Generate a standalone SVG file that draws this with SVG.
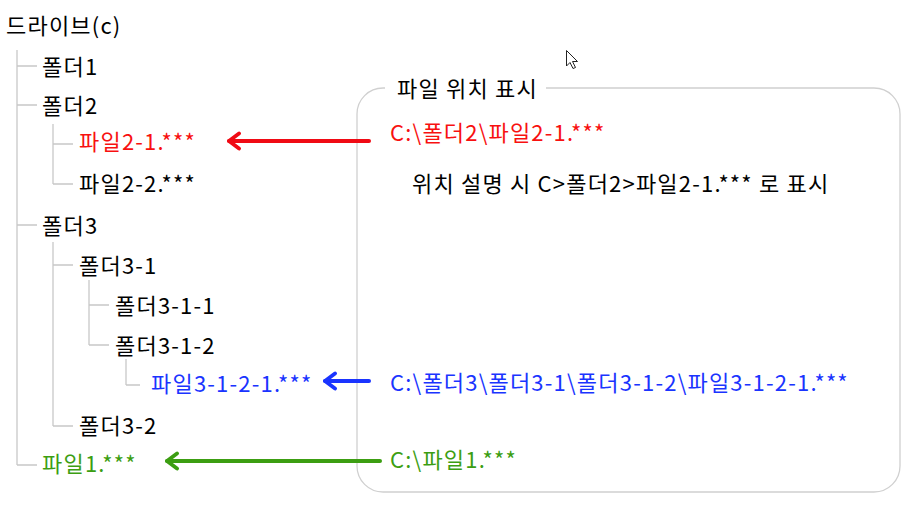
<svg xmlns="http://www.w3.org/2000/svg" width="907" height="512" viewBox="0 0 907 512">
<style>
text{font-family:"Noto Sans CJK KR","Noto Sans",sans-serif;font-size:22px;letter-spacing:1.2px;fill:#000}
.tree{stroke:#c8c8c8;stroke-width:1.3;fill:none}
.red{fill:#f81010}.blue{fill:#1a34ff}.green{fill:#3c9e12}
</style>
<defs>
<marker id="ar" viewBox="0 0 12 12" refX="10" refY="6" markerWidth="20" markerHeight="20" orient="auto" markerUnits="userSpaceOnUse"><path d="M4,1.5 L10,6 L4,10.5" fill="none" stroke="context-stroke" stroke-width="2.3" stroke-linecap="round" stroke-linejoin="round"/></marker>
</defs>
<rect width="907" height="512" fill="#fff"/>
<g id="panel">
<rect x="357" y="88" width="543" height="404" rx="26" fill="none" stroke="#d0d0d0" stroke-width="1.3"/>
<rect x="385" y="80" width="161" height="18" fill="#fff"/>
<text x="397" y="97">파일 위치 표시</text>
</g>
<g id="tree-lines" class="tree">
<path d="M17,50 V465 M17,66 H37 M17,105 H37 M17,225 H37 M17,465 H37"/>
<path d="M53,124 V184 M53,144 H73 M53,184 H73"/>
<path d="M53,242 V426 M53,265 H73 M53,426 H73"/>
<path d="M89,280 V345 M89,305 H109 M89,345 H109"/>
<path d="M126,359 V385 M126,385 H140"/>
</g>
<g id="root"><text x="6" y="34">드라이브(c)</text></g>
<g id="n-folder1"><text x="42" y="75">폴더1</text></g>
<g id="n-folder2"><text x="42" y="114">폴더2</text></g>
<g id="n-file2-1"><text class="red" x="79" y="150">파일2-1.***</text></g>
<g id="n-file2-2"><text x="79" y="192">파일2-2.***</text></g>
<g id="n-folder3"><text x="42" y="234">폴더3</text></g>
<g id="n-folder3-1"><text x="79" y="274">폴더3-1</text></g>
<g id="n-folder3-1-1"><text x="115" y="314">폴더3-1-1</text></g>
<g id="n-folder3-1-2"><text x="115" y="354">폴더3-1-2</text></g>
<g id="n-file3-1-2-1"><text class="blue" x="151" y="392">파일3-1-2-1.***</text></g>
<g id="n-folder3-2"><text x="79" y="434">폴더3-2</text></g>
<g id="n-file1"><text class="green" x="42" y="472">파일1.***</text></g>
<g id="path-red"><text class="red" x="390" y="141">C:\폴더2\파일2-1.***</text></g>
<g id="note"><text x="412" y="192">위치 설명 시 C&gt;폴더2&gt;파일2-1.*** 로 표시</text></g>
<g id="path-blue"><text class="blue" x="390" y="391">C:\폴더3\폴더3-1\폴더3-1-2\파일3-1-2-1.***</text></g>
<g id="path-green"><text class="green" x="390" y="468">C:\파일1.***</text></g>
<g id="connectors" fill="none" stroke-width="4" stroke-linecap="round">
<path d="M369,141 H229" stroke="#f00a14" marker-end="url(#ar)"/>
<path d="M369,381 H325" stroke="#1a34ff" marker-end="url(#ar)"/>
<path d="M380,461 H167" stroke="#3c9e12" marker-end="url(#ar)"/>
</g>
<g id="cursor"><path d="M566.5,50.5 V66 L570,62.5 L573,68.5 L575.5,67.5 L572.5,61.5 L577.5,61.5 Z" fill="#fff" stroke="#222" stroke-width="1" stroke-linejoin="round"/></g>
</svg>
